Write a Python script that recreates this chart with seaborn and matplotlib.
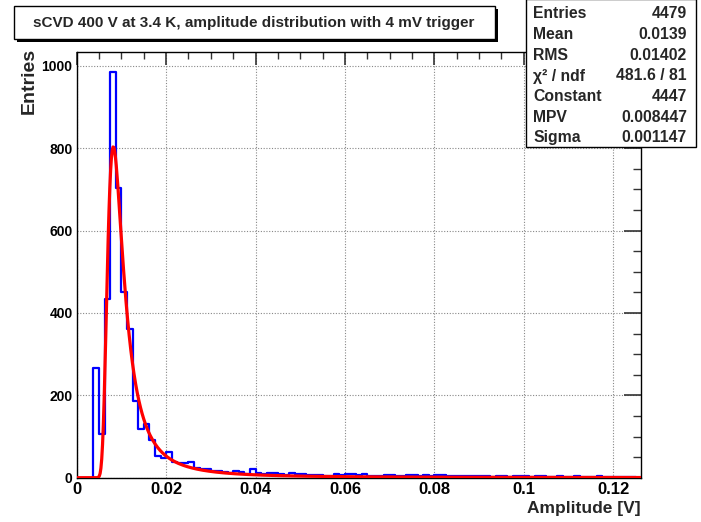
import numpy as np
import pandas as pd
import matplotlib
matplotlib.use("Agg")
import matplotlib.pyplot as plt
import seaborn as sns
from matplotlib.patches import Rectangle
from matplotlib.ticker import MultipleLocator, FuncFormatter

# ---------------- data ----------------
title = "sCVD 400 V at 3.4 K, amplitude distribution with 4 mV trigger"
x_label = "Amplitude [V]"
y_label = "Entries"

n_bins = 100
x_low, x_high = 0.0, 0.125
counts = [
    0, 0, 0, 267, 106, 433, 984, 703, 450, 361,
    186, 118, 131, 92, 53, 47, 62, 39, 35, 35,
    37, 23, 20, 20, 17, 17, 15, 12, 16, 15,
    9, 21, 12, 9, 11, 11, 8, 7, 11, 10,
    9, 7, 7, 7, 3, 4, 10, 6, 8, 9,
    6, 10, 5, 4, 4, 6, 7, 3, 5, 7,
    7, 4, 6, 5, 6, 6, 4, 3, 5, 4,
    4, 3, 4, 3, 2, 3, 3, 2, 3, 4,
    4, 2, 5, 3, 2, 2, 3, 1, 2, 3,
    1, 2, 1, 3, 1, 2, 1, 1, 2, 1,
]

fit_constant = 4447.0
fit_mpv = 0.008447
fit_sigma = 0.001147

stat_names = ["Entries", "Mean", "RMS", "\u03c7\u00b2 / ndf", "Constant", "MPV", "Sigma"]
stat_values = ["4479", "0.0139", "0.01402", "481.6 / 81", "4447", "0.008447", "0.001147"]

# ---------------- helpers ----------------
def landau_density(lam):
    """Standard Landau density (CERNLIB denlan convention) by numerical integration."""
    t = np.linspace(1e-12, 80.0, 120001)
    base = -t * np.log(t)
    sin_t = np.sin(np.pi * t)
    out = np.zeros_like(lam)
    for i, l in enumerate(lam):
        if l < -3.8:
            out[i] = 0.0
            continue
        f = np.exp(base - l * t) * sin_t
        out[i] = np.trapezoid(f, t) / np.pi
    return out

edges = np.linspace(x_low, x_high, n_bins + 1)
centers = 0.5 * (edges[:-1] + edges[1:])
hist_df = pd.DataFrame({"amp": centers, "n": counts})

x_fit = np.linspace(0.0, 0.1262, 700)
y_fit = fit_constant * landau_density((x_fit - fit_mpv) / fit_sigma)
fit_df = pd.DataFrame({"amp": x_fit, "f": y_fit})

# ---------------- figure ----------------
sns.set_style("white")
plt.rcParams["font.family"] = ["Liberation Sans", "DejaVu Sans"]
plt.rcParams["font.weight"] = "bold"
plt.rcParams["axes.labelweight"] = "bold"

W, H = 701, 522
fig = plt.figure(figsize=(W / 100, H / 100), dpi=100)
fig.patch.set_facecolor("white")

L, R, T, B = 76.7, 641.0, 51.7, 477.7
ax = fig.add_axes([L / W, 1 - B / H, (R - L) / W, (B - T) / H])

sns.histplot(data=hist_df, x="amp", weights="n", bins=list(edges), element="step",
             fill=False, color="#0000ff", linewidth=1.6, ax=ax, zorder=3)
sns.lineplot(data=fit_df, x="amp", y="f", color="#ff0000", linewidth=2.3,
             ax=ax, zorder=4, sort=False)

ax.set_xlim(0.0, 0.1262)
ax.set_ylim(0.0, (B - T) / 0.412)

ax.xaxis.set_major_locator(MultipleLocator(0.02))
ax.xaxis.set_minor_locator(MultipleLocator(0.005))
ax.yaxis.set_major_locator(MultipleLocator(200))
ax.yaxis.set_minor_locator(MultipleLocator(50))
ax.xaxis.set_major_formatter(FuncFormatter(lambda v, p: f"{v:g}"))
ax.yaxis.set_major_formatter(FuncFormatter(lambda v, p: f"{v:g}"))

ax.tick_params(axis="both", which="both", direction="in", top=True, right=True,
               colors="#333333", labelcolor="black")
ax.tick_params(axis="y", which="major", length=12, width=1.2, labelsize=10, pad=3)
ax.tick_params(axis="y", which="minor", length=6, width=1.0)
ax.tick_params(axis="x", which="major", length=9, width=1.2, labelsize=12, pad=3)
ax.tick_params(axis="x", which="minor", length=5, width=1.0)
for lab in ax.get_xticklabels() + ax.get_yticklabels():
    lab.set_fontweight("bold")

ax.grid(True, which="major", linestyle=(0, (1, 1.5)), color="#888888", linewidth=0.8)
for s in ax.spines.values():
    s.set_color("black")
    s.set_linewidth(1.0)

ax.set_xlabel(x_label, fontsize=12.5, fontweight="bold", ha="right", va="center")
ax.xaxis.set_label_coords(1.0, -(508 - B) / (B - T))
ax.set_ylabel(y_label, fontsize=14, fontweight="bold", ha="right", va="center",
              rotation=90)
ax.yaxis.set_label_coords((29 - L) / (R - L), 1 + (T - 48) / (B - T))

# ---------------- title box ----------------
def px_rect(x0, y0, x1, y1, **kw):
    return Rectangle((x0 / W, 1 - y1 / H), (x1 - x0) / W, (y1 - y0) / H,
                     transform=fig.transFigure, **kw)

tb = (14, 6, 495, 39)
fig.patches.append(px_rect(tb[0] + 3, tb[1] + 3, tb[2] + 3, tb[3] + 3,
                           facecolor="black", edgecolor="black", lw=0))
fig.patches.append(px_rect(*tb, facecolor="white", edgecolor="black", lw=1.0))
fig.text(254 / W, 1 - 22.7 / H, title,
         ha="center", va="center", fontsize=11, fontweight="bold")

# ---------------- stats box ----------------
sb = (526, -1, 696, 147)
fig.patches.append(px_rect(*sb, facecolor="white", edgecolor="black", lw=1.0))
row_y = [13.3, 34.3, 55.0, 76.0, 96.7, 117.3, 137.3]
for name, val, yy in zip(stat_names, stat_values, row_y):
    fig.text(533 / W, 1 - yy / H, name, ha="left", va="center",
             fontsize=11.3, fontweight="bold")
    fig.text(687 / W, 1 - yy / H, val, ha="right", va="center",
             fontsize=11.3, fontweight="bold")

fig.savefig("out.png", dpi=100, facecolor="white")
